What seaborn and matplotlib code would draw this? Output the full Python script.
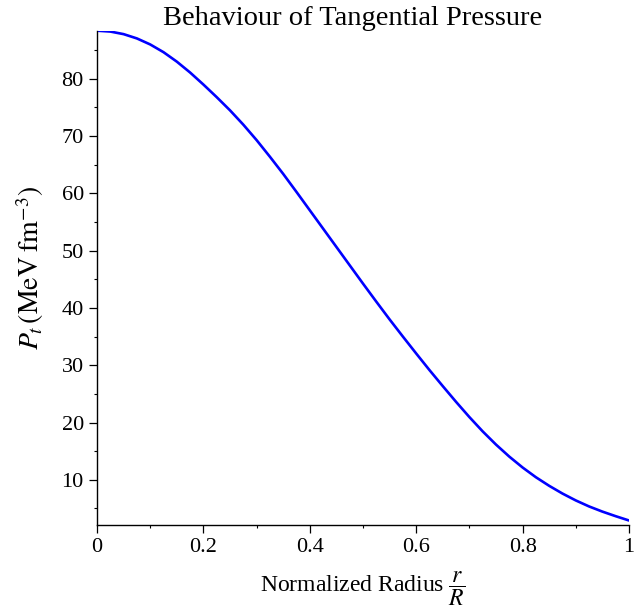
import numpy as np
import pandas as pd
import matplotlib
matplotlib.use("Agg")
import matplotlib.pyplot as plt
import seaborn as sns
from matplotlib.ticker import MultipleLocator, FuncFormatter

# Data
radius = [0.0, 0.025, 0.05, 0.075, 0.1, 0.125, 0.15, 0.175, 0.2, 0.225,
          0.25, 0.275, 0.3, 0.325, 0.35, 0.375, 0.4, 0.425, 0.45, 0.475,
          0.5, 0.525, 0.55, 0.575, 0.6, 0.625, 0.65, 0.675, 0.7, 0.725,
          0.75, 0.775, 0.8, 0.825, 0.85, 0.875, 0.9, 0.925, 0.95, 0.975, 1.0]
pressure = [88.4, 88.25, 87.8, 87.05, 86.0, 84.65, 83.0, 81.1, 79.0, 76.8,
            74.5, 72.0, 69.3, 66.4, 63.4, 60.25, 57.05, 53.85, 50.65, 47.45,
            44.25, 41.1, 38.0, 35.0, 32.05, 29.15, 26.35, 23.6, 20.95, 18.45,
            16.15, 14.05, 12.15, 10.45, 8.95, 7.6, 6.4, 5.35, 4.45, 3.65, 2.9]
x_ticks = [0, 0.2, 0.4, 0.6, 0.8, 1.0]
y_ticks = [10, 20, 30, 40, 50, 60, 70, 80]

sns.set_theme(style="ticks")
plt.rcParams['font.family'] = ['Liberation Serif', 'DejaVu Serif']
plt.rcParams['mathtext.fontset'] = 'stix'

df = pd.DataFrame({"r": radius, "Pt": pressure})

fig = plt.figure(figsize=(6.42, 6.11), dpi=100)
ax = fig.add_axes([97/642, 1 - 524.5/611, (629 - 97)/642, (524.5 - 30.7)/611])
sns.lineplot(data=df, x="r", y="Pt", ax=ax, color="#0000ff", linewidth=1.9)

ax.set_xlim(0, 1)
ax.set_ylim(2.2, 88.4)
ax.set_xticks(x_ticks)
ax.set_yticks(y_ticks)
ax.xaxis.set_minor_locator(MultipleLocator(0.1))
ax.yaxis.set_minor_locator(MultipleLocator(5))
ax.xaxis.set_major_formatter(FuncFormatter(lambda v, p: "%g" % v))

sns.despine(ax=ax)
for s in ("left", "bottom"):
    ax.spines[s].set_color("black")
    ax.spines[s].set_linewidth(1.0)
ax.tick_params(axis="both", which="major", direction="out", length=5.5, width=0.9,
               color="black", labelsize=16, labelcolor="black", pad=4)
ax.tick_params(axis="both", which="minor", direction="out", length=2.5, width=0.8,
               color="black")

ax.set_title("Behaviour of Tangential Pressure", fontsize=20.5, pad=-2, color="black")
ax.title.set_x((353 - 97) / 532)
ax.set_xlabel(r"Normalized Radius $\dfrac{r}{R}$", fontsize=17, color="black", labelpad=9)
ax.set_ylabel(r"$P_t\,\left(\mathrm{MeV\;fm}^{-3}\right)$", fontsize=20, color="black")
ax.yaxis.set_label_coords(-0.095, 0.52)

fig.savefig("out.png", dpi=100)
